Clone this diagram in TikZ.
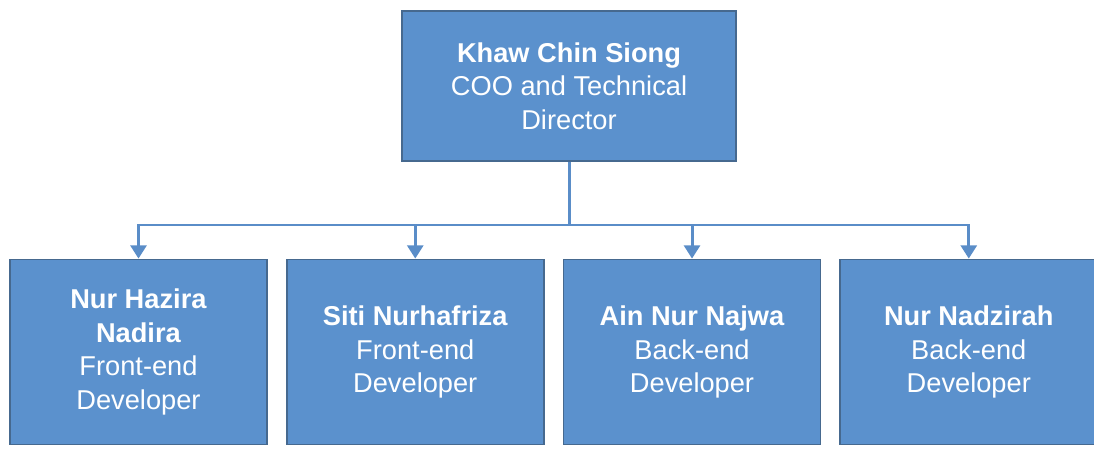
\documentclass[tikz,border=0pt]{standalone}
\usepackage{fontspec}
\setmainfont{Liberation Sans}
\usepackage{xcolor}
\usepackage{tikz}
\usetikzlibrary{positioning, arrows.meta}

\definecolor{boxblue}{HTML}{5B91CD}
\definecolor{edgeblue}{HTML}{46698F}
\definecolor{lineblue}{HTML}{5A8DC8}

\begin{document}
\begin{tikzpicture}[
        person/.style={rectangle, draw=edgeblue, line width=1pt, fill=boxblue, text=white, align=center,
            font=\fontsize{15.5}{19}\selectfont, minimum width=5.14cm, minimum height=3.7cm, inner sep=2pt},
        link/.style={draw=lineblue, line width=1.7pt, -{Triangle[width=9pt,length=7.5pt]}}
    ]
        \useasboundingbox (0,0) rectangle (21.88,-9.12);

        % Boxes
        \node[person, minimum width=6.68cm, minimum height=3cm] (coo) at (11.38,-1.72) {\textbf{Khaw Chin Siong}\\COO and Technical\\Director};
        \node[person] (hazira) at (2.77,-7.04) {\textbf{Nur Hazira}\\\textbf{Nadira}\\Front-end\\Developer};
        \node[person, right=0.36cm of hazira] (siti) {\textbf{Siti Nurhafriza}\\Front-end\\Developer};
        \node[person, right=0.36cm of siti] (ain) {\textbf{Ain Nur Najwa}\\Back-end\\Developer};
        \node[person, right=0.36cm of ain] (nadzirah) {\textbf{Nur Nadzirah}\\Back-end\\Developer};
        \coordinate (bus) at (11.2,-4.5);

        % Arrows
        \draw[link] (coo.south) -- (coo.south |- bus) -| (hazira.north);
        \draw[link] (coo.south) -- (coo.south |- bus) -| (siti.north);
        \draw[link] (coo.south) -- (coo.south |- bus) -| (ain.north);
        \draw[link] (coo.south) -- (coo.south |- bus) -| (nadzirah.north);

    \end{tikzpicture}
\end{document}
